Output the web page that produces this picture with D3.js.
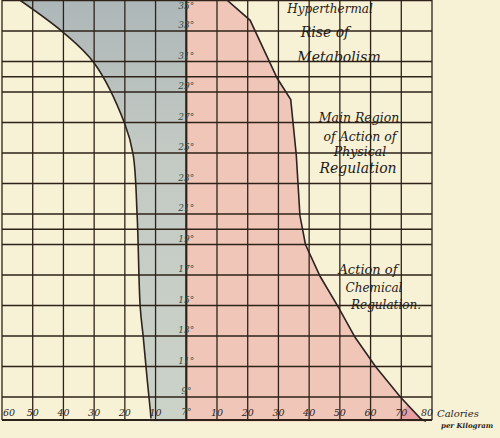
<!DOCTYPE html>
<html><head><meta charset="utf-8">
<script src="https://cdn.jsdelivr.net/npm/d3@7.9.0/dist/d3.min.js"></script>
<style>body{margin:0;background:#f7f1d6;} svg{display:block;}</style>
</head><body><svg id="chart" width="500" height="438"></svg>
<script>
// temperatures (°C) and calories per kilogram read from the plate
const tempTicks = [9, 11, 13, 15, 17, 19, 21, 23, 25, 27, 29, 31, 33, 35];
const extraGrid = [20, 30];
const calTicksLeft = [-60, -50, -40, -30, -20, -10];
const calTicksRight = [10, 20, 30, 40, 50, 60, 70, 80];

// boundary of the lower (blue) region, left of the axis
const basalTemp = [35, 32.9, 30.9, 26.9, 24.9, 20.9, 14.9, 12.9, 10.1, 8.1];
const basalCal  = [-54, -40, -30, -20, -17.3, -16, -15, -14, -12.7, -11.7];

// boundary of the regulation (pink) region, right of the axis
const regTemp = [35, 33.7, 29.9, 28.5, 24.9, 20.9, 19, 16.9, 14.9, 12.9, 11, 9, 7.6];
const regCal  = [13.4, 20.8, 29.6, 34, 35.8, 37, 38.8, 43.6, 49.5, 55, 61.6, 69.7, 76.2];

const svg = d3.select('#chart');
const x = d3.scaleLinear().domain([-60, 80]).range([2, 432]);
const y = d3.scaleLinear().domain([9, 35]).range([397, 0.5]);
const yBottom = 420;

const defs = svg.append('defs');
const g = defs.append('linearGradient').attr('id', 'blue').attr('x1', 0).attr('x2', 0).attr('y1', 0).attr('y2', 1);
g.append('stop').attr('offset', '0%').attr('stop-color', '#aeb7b8');
g.append('stop').attr('offset', '35%').attr('stop-color', '#c3cac4');
g.append('stop').attr('offset', '100%').attr('stop-color', '#cbd2c8');

const basal = basalTemp.map((t, i) => [basalCal[i], t]);
const reg = regTemp.map((t, i) => [regCal[i], t]);
const basalLine = d3.line().x(d => x(d[0])).y(d => y(d[1])).curve(d3.curveCatmullRom);
const regLine = d3.line().x(d => x(d[0])).y(d => y(d[1]));

// blue area
const blueArea = d3.area().y(d => y(d[1])).x0(d => x(d[0])).x1(x(0)).curve(d3.curveCatmullRom);
svg.append('path').attr('d', blueArea(basal.concat([[-11.5, 7.4]]))).attr('fill', 'url(#blue)');
// pink area
const pinkArea = d3.area().y(d => y(d[1])).x0(x(0)).x1(d => x(d[0]));
svg.append('path').attr('d', pinkArea(reg.concat([[78, 7.4]]))).attr('fill', '#f0c6b8');
// darker pink corner
svg.append('path')
  .attr('d', `M${x(69)},${yBottom} L${x(72)},${y(8.5)} L${x(76.2)},${y(7.6)} L${x(78)},${yBottom} Z`)
  .attr('fill', '#e6a0a4');

// grid
const grid = svg.append('g').attr('stroke', '#2e2219').attr('stroke-width', 1.3);
grid.selectAll('.h').data(tempTicks.concat(extraGrid)).join('line')
  .attr('x1', x(-60)).attr('x2', x(80)).attr('y1', d => y(d)).attr('y2', d => y(d));
grid.append('line').attr('x1', x(-60)).attr('x2', x(80)).attr('y1', yBottom).attr('y2', yBottom).attr('stroke-width', 1.8);
grid.selectAll('.v').data(calTicksLeft.concat([0], calTicksRight)).join('line')
  .attr('x1', d => x(d)).attr('x2', d => x(d)).attr('y1', 0).attr('y2', yBottom)
  .attr('stroke-width', d => d === 0 ? 2.2 : 1.3);

// curves
svg.append('path').attr('d', basalLine(basal.concat([[-11.5, 7.6]]))).attr('fill', 'none').attr('stroke', '#2b2420').attr('stroke-width', 1.6);
svg.append('path').attr('d', regLine(reg.concat([[78, 7.4]]))).attr('fill', 'none').attr('stroke', '#2b2420').attr('stroke-width', 1.6);

const font = '"DejaVu Serif", serif';
// temperature labels on the axis
svg.append('g').selectAll('text').data(tempTicks.concat([7])).join('text')
  .attr('x', x(0)).attr('y', d => d === 7 ? 415 : d === 35 ? 9 : y(d) - 3)
  .attr('text-anchor', 'middle').attr('font-family', font).attr('font-style', 'italic')
  .attr('font-size', 9).attr('fill', '#2f4d44').text(d => d + '°');

// calorie labels
svg.append('g').selectAll('text').data(calTicksLeft.concat(calTicksRight)).join('text')
  .attr('x', d => d === -60 ? x(d) + 7 : d === 80 ? x(d) - 5 : x(d)).attr('y', 416).attr('text-anchor', 'middle')
  .attr('font-family', font).attr('font-style', 'italic').attr('font-size', 9.5)
  .attr('fill', '#2b2420').text(d => Math.abs(d));

svg.append('text').attr('x', 437).attr('y', 417).attr('font-family', font).attr('font-style', 'italic')
  .attr('font-size', 10).attr('fill', '#2b2420').text('Calories');
svg.append('text').attr('x', 441).attr('y', 428).attr('font-family', font).attr('font-style', 'italic')
  .attr('font-size', 7).attr('font-weight', 'bold').attr('fill', '#2b2420').text('per Kilogram');

const notes = [
  ['Hyperthermal', 330, 13, 12], ['Rise of', 325, 37, 14], ['Metabolism', 339, 62, 14],
  ['Main Region', 359, 122, 12.5], ['of Action of', 360, 141, 12.5], ['Physical', 360, 156, 12.5], ['Regulation', 358, 173, 14],
  ['Action of', 368, 274, 13], ['Chemical', 374, 292, 12], ['Regulation.', 386, 309, 12]
];
svg.append('g').selectAll('text').data(notes).join('text')
  .attr('x', d => d[1]).attr('y', d => d[2]).attr('text-anchor', 'middle')
  .attr('font-family', font).attr('font-style', 'italic').attr('font-size', d => d[3])
  .attr('fill', '#1f1a16').text(d => d[0]);
</script></body></html>
